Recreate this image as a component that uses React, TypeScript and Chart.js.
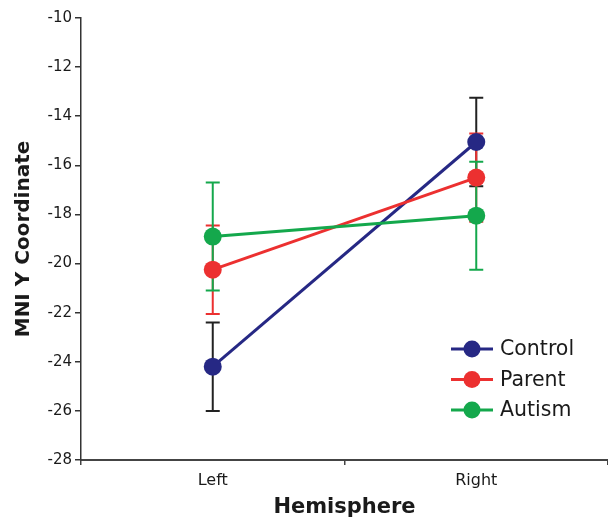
import React, { useEffect, useRef } from "react";
import { Chart, registerables } from "chart.js";

Chart.register(...registerables);

const categories = ["Left", "Right"];
const seriesNames = ["Control", "Parent", "Autism"];
const controlValues = [-24.2, -15.05];
const parentValues = [-20.25, -16.5];
const autismValues = [-18.9, -18.05];
const controlErrors = [1.8, 1.8];
const parentErrors = [1.8, 1.8];
const autismErrors = [2.2, 2.2];
const yTicks = [-28, -26, -24, -22, -20, -18, -16, -14, -12, -10];

const lineColors = ["#262884", "#ec3030", "#14a84c"];
const errColors = ["#222222", "#ec3030", "#14a84c"];
const FONT = "'DejaVu Sans', Verdana, sans-serif";

const errorBarPlugin = {
  id: "errorBars",
  beforeDatasetsDraw(chart: any) {
    const ctx = chart.ctx;
    const y = chart.scales.y;
    chart.data.datasets.forEach((ds: any, di: number) => {
      const meta = chart.getDatasetMeta(di);
      ctx.save();
      ctx.strokeStyle = ds.errorColor;
      ctx.lineWidth = 2;
      meta.data.forEach((pt: any, i: number) => {
        const v = ds.data[i];
        const e = ds.errors[i];
        const top = y.getPixelForValue(v + e);
        const bot = y.getPixelForValue(v - e);
        const x = pt.x;
        ctx.beginPath();
        ctx.moveTo(x, top);
        ctx.lineTo(x, bot);
        ctx.moveTo(x - 7, top);
        ctx.lineTo(x + 7, top);
        ctx.moveTo(x - 7, bot);
        ctx.lineTo(x + 7, bot);
        ctx.stroke();
      });
      ctx.restore();
    });
  },
};

const legendPlugin = {
  id: "customLegend",
  afterDraw(chart: any) {
    const ctx = chart.ctx;
    const x0 = 451;
    const y0 = 349;
    const gap = 30.5;
    ctx.save();
    chart.data.datasets.forEach((ds: any, i: number) => {
      const yy = y0 + i * gap;
      ctx.strokeStyle = ds.borderColor;
      ctx.lineWidth = 3;
      ctx.beginPath();
      ctx.moveTo(x0, yy);
      ctx.lineTo(x0 + 42, yy);
      ctx.stroke();
      ctx.fillStyle = ds.borderColor;
      ctx.beginPath();
      ctx.arc(x0 + 21, yy, 8.5, 0, Math.PI * 2);
      ctx.fill();
      ctx.fillStyle = "#1a1a1a";
      ctx.font = `20.5px ${FONT}`;
      ctx.textBaseline = "middle";
      ctx.textAlign = "left";
      ctx.fillText(ds.label, x0 + 49, yy + 1);
    });
    ctx.restore();
  },
};

export default function App() {
  const ref = useRef<HTMLCanvasElement>(null);
  useEffect(() => {
    if (!ref.current) return;
    const values = [controlValues, parentValues, autismValues];
    const errors = [controlErrors, parentErrors, autismErrors];
    const chart = new Chart(ref.current, {
      type: "line",
      data: {
        labels: categories,
        datasets: seriesNames.map((name, i) => ({
          label: name,
          data: values[i],
          errors: errors[i],
          errorColor: errColors[i],
          borderColor: lineColors[i],
          backgroundColor: lineColors[i],
          borderWidth: 3,
          pointRadius: 9,
          pointHoverRadius: 9,
          pointBorderWidth: 0,
          order: 3 - i,
        })) as any,
      },
      options: {
        animation: false,
        responsive: false,
        maintainAspectRatio: false,
        events: [],
        layout: { autoPadding: false, padding: { top: 18, left: 0, right: 0, bottom: 0 } },
        plugins: {
          legend: { display: false },
          tooltip: { enabled: false },
        },
        scales: {
          x: {
            type: "category",
            offset: true,
            afterFit: (s: any) => {
              s.height = 65;
            },
            grid: {
              offset: true,
              drawOnChartArea: false,
              drawTicks: true,
              tickLength: 5,
              color: (c: any) => (c.index === 2 ? "rgba(0,0,0,0)" : "#444"),
              lineWidth: 1.5,
            },
            border: { display: true, color: "#444", width: 2 },
            ticks: {
              color: "#1a1a1a",
              font: { family: FONT, size: 16 },
              padding: 6,
              maxRotation: 0,
            },
            title: {
              display: true,
              text: "Hemisphere",
              color: "#1a1a1a",
              font: { family: FONT, size: 21, weight: "bold" },
              padding: { top: 0, bottom: 5 },
            },
          },
          y: {
            min: -28,
            max: -10,
            afterFit: (s: any) => {
              s.width = 81;
            },
            afterBuildTicks: (s: any) => {
              s.ticks = yTicks.map((v) => ({ value: v }));
            },
            grid: {
              drawOnChartArea: false,
              drawTicks: true,
              tickLength: 6,
              color: "#333",
              lineWidth: 1.5,
            },
            border: { display: true, color: "#333", width: 1.5 },
            ticks: {
              color: "#1a1a1a",
              font: { family: FONT, size: 15 },
              padding: 3,
            },
            title: {
              display: true,
              text: "MNI Y Coordinate",
              color: "#1a1a1a",
              font: { family: FONT, size: 20, weight: "bold" },
              padding: { top: 12, bottom: 0 },
            },
          },
        },
      },
      plugins: [errorBarPlugin, legendPlugin],
    } as any);
    return () => chart.destroy();
  }, []);
  return (
    <div style={{ position: "absolute", left: 0, top: 0, width: 608, height: 525, background: "#fff" }}>
      <canvas ref={ref} width={608} height={525} style={{ display: "block", width: 608, height: 525 }} />
    </div>
  );
}
